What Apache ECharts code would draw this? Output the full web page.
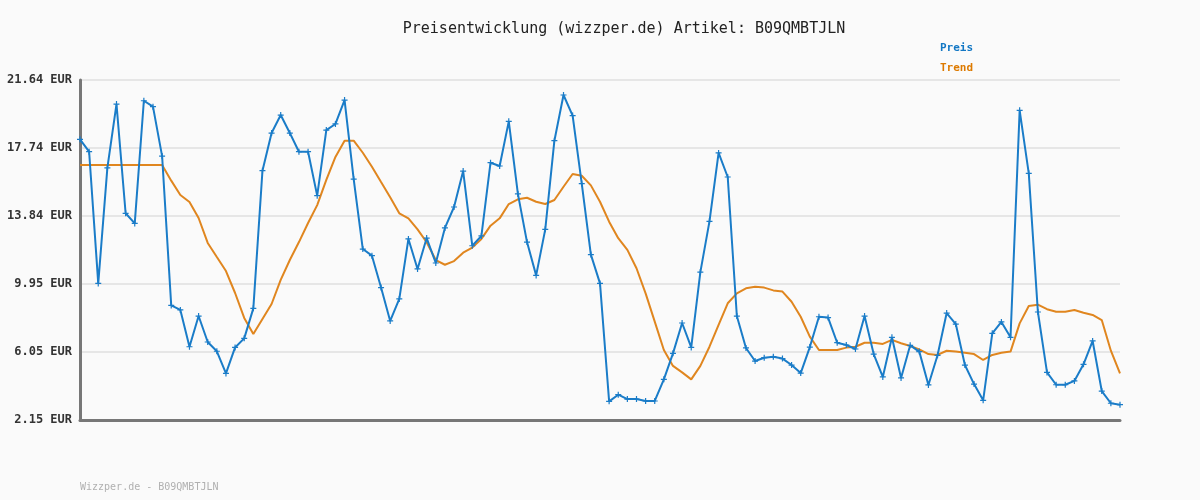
<!DOCTYPE html>
<html>
<head>
<meta charset="utf-8">
<script src="https://cdn.jsdelivr.net/npm/echarts@6/dist/echarts.min.js"></script>
<style>html,body{margin:0;padding:0;background:#fafafa;}#c{width:1200px;height:500px;}</style>
</head>
<body>
<div id="c"></div>
<script>
const titleText = 'Preisentwicklung (wizzper.de) Artikel: B09QMBTJLN';
const watermark = 'Wizzper.de - B09QMBTJLN';
const seriesNames = ['Preis', 'Trend'];
const yTicks = [2.15, 6.05, 9.95, 13.84, 17.74, 21.64];

const preis = [
  18.24, 17.53, 9.98, 16.60, 20.26, 14.00, 13.42, 20.45, 20.11, 17.28,
  8.72, 8.46, 6.35, 8.11, 6.62, 6.09, 4.82, 6.31, 6.83, 8.55,
  16.44, 18.60, 19.63, 18.60, 17.53, 17.53, 15.01, 18.77, 19.12, 20.49,
  15.96, 11.95, 11.57, 9.74, 7.83, 9.09, 12.53, 10.81, 12.58, 11.15,
  13.16, 14.36, 16.42, 12.14, 12.70, 16.90, 16.71, 19.27, 15.11, 12.35,
  10.44, 13.08, 18.16, 20.78, 19.60, 15.70, 11.63, 9.98, 3.22, 3.60,
  3.35, 3.35, 3.24, 3.24, 4.48, 5.97, 7.71, 6.31, 10.63, 13.54,
  17.46, 16.08, 8.11, 6.28, 5.53, 5.72, 5.78, 5.67, 5.30, 4.84,
  6.33, 8.07, 8.02, 6.58, 6.45, 6.22, 8.11, 5.93, 4.62, 6.89,
  4.56, 6.43, 6.07, 4.16, 5.86, 8.28, 7.65, 5.30, 4.21, 3.28,
  7.12, 7.77, 6.89, 19.90, 16.29, 8.34, 4.88, 4.17, 4.17, 4.39,
  5.34, 6.68, 3.81, 3.11, 3.03
];

const trend = [
  16.77, 16.77, 16.77, 16.77, 16.77, 16.77, 16.77, 16.77, 16.77, 16.77,
  15.87, 15.05, 14.65, 13.73, 12.30, 11.49, 10.69, 9.43, 8.00, 7.08,
  7.94, 8.80, 10.18, 11.32, 12.35, 13.44, 14.47, 15.91, 17.23, 18.16,
  18.16, 17.47, 16.67, 15.79, 14.92, 14.00, 13.71, 13.08, 12.34, 11.32,
  11.05, 11.26, 11.74, 12.03, 12.53, 13.29, 13.71, 14.53, 14.80, 14.89,
  14.66, 14.53, 14.76, 15.52, 16.25, 16.15, 15.60, 14.66, 13.52, 12.57,
  11.90, 10.85, 9.41, 7.79, 6.16, 5.25, 4.88, 4.48, 5.25, 6.35,
  7.60, 8.84, 9.41, 9.70, 9.79, 9.74, 9.58, 9.51, 8.93, 8.07,
  6.93, 6.16, 6.16, 6.16, 6.30, 6.35, 6.58, 6.58, 6.51, 6.74,
  6.55, 6.39, 6.20, 5.93, 5.88, 6.12, 6.07, 6.01, 5.93, 5.59,
  5.88, 6.01, 6.07, 7.69, 8.68, 8.76, 8.50, 8.36, 8.36, 8.46,
  8.30, 8.17, 7.88, 6.12, 4.82
];

const categories = preis.map((_, i) => String(i + 1));

const mono = '"DejaVu Sans Mono", "Liberation Mono", monospace';
const blue = '#1a7cc8';
const orange = '#e0861f';
const plus = 'path://M2,0L3,0L3,2L5,2L5,3L3,3L3,5L2,5L2,3L0,3L0,2L2,2Z';

const chart = echarts.init(document.getElementById('c'), null, {renderer: 'canvas'});
chart.setOption({
  backgroundColor: '#fafafa',
  animation: false,
  title: {
    text: titleText,
    left: 619, top: 17, textAlign: 'center',
    textStyle: {fontFamily: mono, fontSize: 15, fontWeight: 'normal', color: '#222'}
  },
  legend: {
    orient: 'vertical', left: 935, top: 38, itemGap: 9,
    itemWidth: 0, itemHeight: 0, icon: 'none',
    selectedMode: false,
    data: [
      {name: seriesNames[0], textStyle: {color: '#1277c4'}},
      {name: seriesNames[1], textStyle: {color: '#dd7a00'}}
    ],
    textStyle: {fontFamily: mono, fontSize: 11, fontWeight: 'bold', padding: [0,0,0,-5]}
  },
  graphic: [{
    type: 'text', left: 80, top: 482,
    style: {text: watermark, fill: '#b0b0b0', font: '10px ' + mono}
  }],
  grid: {left: 80, right: 80, top: 80, bottom: 80, containLabel: false},
  xAxis: {
    type: 'category', data: categories, boundaryGap: false,
    axisLine: {show: true, lineStyle: {color: '#777', width: 3}},
    axisTick: {show: false}, axisLabel: {show: false}, splitLine: {show: false}
  },
  yAxis: {
    type: 'value', min: yTicks[0], max: yTicks[yTicks.length - 1], interval: 3.898,
    axisLine: {show: true, lineStyle: {color: '#777', width: 3}},
    axisTick: {show: false},
    axisLabel: {
      margin: 8,
      fontFamily: mono, fontSize: 12, fontWeight: 'bold', color: '#333',
      formatter: v => { let best = yTicks[0]; yTicks.forEach(t => { if (Math.abs(t - v) < Math.abs(best - v)) best = t; }); return best.toFixed(2) + ' EUR'; }
    },
    splitLine: {show: true, lineStyle: {color: '#e6e6e6', width: 2}}
  },
  series: [
    {
      name: seriesNames[0], type: 'line', data: preis,
      symbol: plus, symbolSize: 6, showSymbol: true,
      lineStyle: {color: blue, width: 2}, itemStyle: {color: blue},
      z: 3
    },
    {
      name: seriesNames[1], type: 'line', data: trend,
      symbol: 'none',
      lineStyle: {color: orange, width: 2}, itemStyle: {color: orange},
      z: 2
    }
  ]
});
</script>
</body>
</html>
